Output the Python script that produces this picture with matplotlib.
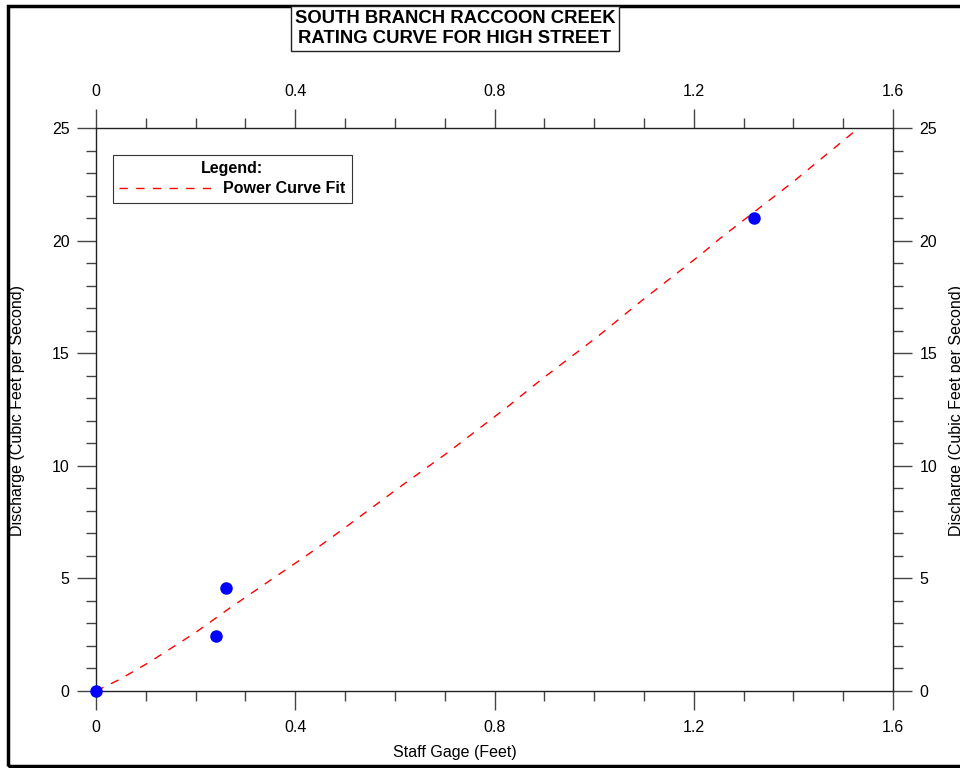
import matplotlib
matplotlib.use("Agg")
import matplotlib.pyplot as plt
from matplotlib.patches import Rectangle
from matplotlib.ticker import MultipleLocator, FuncFormatter

plt.rcParams['font.family'] = ['Liberation Sans', 'DejaVu Sans']

# measured rating points
gage = [0.0, 0.24, 0.26, 1.32]
discharge = [0.0, 2.45, 4.57, 21.0]

# power curve fit
fit_gage = [0, 0.048, 0.108, 0.2, 0.269, 0.43, 0.496, 0.61, 0.705, 0.825,
            0.895, 1.006, 1.092, 1.213, 1.253, 1.399, 1.52]
fit_q = [0, 0.52, 1.29, 2.6, 3.69, 6.13, 7.19, 9.06, 10.57, 12.6,
         13.85, 15.72, 17.27, 19.36, 20.1, 22.6, 24.8]

title_lines = ["SOUTH BRANCH RACCOON CREEK", "RATING CURVE FOR HIGH STREET"]
ylab = "Discharge (Cubic Feet per Second)"
xlab = "Staff Gage (Feet)"

fig = plt.figure(figsize=(9.6, 7.68), dpi=100)
ax = fig.add_axes([96/960, 1-691/768, (893-96)/960, (691-128)/768])

ax.plot(fit_gage, fit_q, color='#ff0000', lw=1.0, dashes=(6, 6), label='Power Curve Fit')
ax.plot(gage, discharge, 'o', color='#0000ff', ms=8, clip_on=False, zorder=5)

ax.set_xlim(0, 1.6)
ax.set_ylim(0, 25)
ax.xaxis.set_major_locator(MultipleLocator(0.4))
ax.xaxis.set_minor_locator(MultipleLocator(0.1))
ax.yaxis.set_major_locator(MultipleLocator(5))
ax.yaxis.set_minor_locator(MultipleLocator(1))
fmt = FuncFormatter(lambda v, p: '%g' % round(v, 2))
ax.xaxis.set_major_formatter(fmt)
ax.yaxis.set_major_formatter(fmt)

ax.tick_params(which='both', direction='out', top=True, right=True,
               labeltop=True, labelright=True, color='#444444', width=1)
ax.tick_params(which='major', length=14, labelsize=11.5, pad=5)
ax.tick_params(axis='x', which='major', pad=7)
ax.tick_params(which='minor', length=7)
for s in ax.spines.values():
    s.set_color('#222222')
    s.set_linewidth(1)

leg = ax.legend(loc='upper left', bbox_to_anchor=(113/960, 1-155/768),
                bbox_transform=fig.transFigure, borderaxespad=0,
                title='Legend:', fancybox=False, framealpha=1,
                edgecolor='#333333', handlelength=5.8, handletextpad=0.7,
                prop={'weight': 'bold', 'size': 11.5}, borderpad=0.4,
                labelspacing=0.3)
leg.get_title().set_fontweight('bold')
leg.get_title().set_fontsize(11.5)
leg.get_frame().set_linewidth(0.8)

fig.text(455/960, 1-752/768, xlab, ha='center', va='center', fontsize=11.5)
fig.text(18/960, 1-410/768, ylab, ha='center', va='center', rotation=90, fontsize=11.5)
fig.text(956/960, 1-410/768, ylab, ha='center', va='center', rotation=90, fontsize=11.5)

fig.text(455/960, 1-28.5/768, "\n".join(title_lines), ha='center', va='center',
         fontsize=13.3, fontweight='bold', linespacing=1.28,
         bbox=dict(boxstyle='square,pad=0.2', fc='white', ec='#222222', lw=1))

fig.patches.append(Rectangle((8/960, 1-766/768), 1.0, (766-5.5)/768,
                             transform=fig.transFigure, fill=False,
                             ec='black', lw=2.5, zorder=0))

fig.savefig('out.png', dpi=100)
